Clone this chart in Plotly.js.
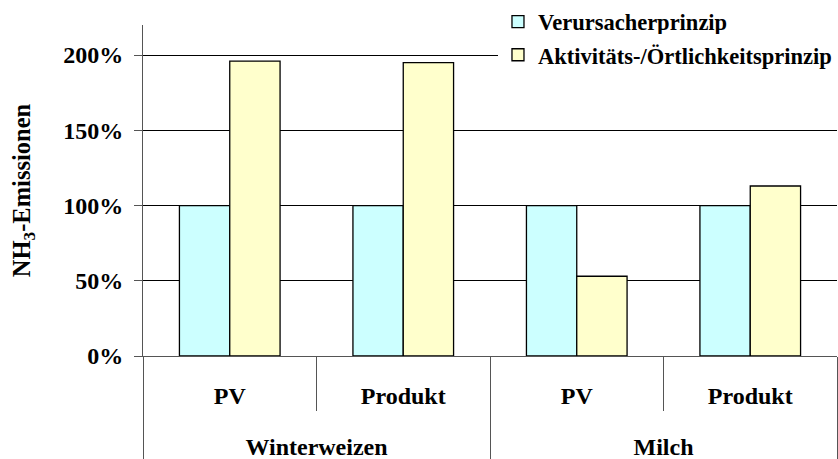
<!DOCTYPE html>
<html>
<head>
<meta charset="utf-8">
<script src="https://cdn.plot.ly/plotly-3.0.1.min.js"></script>
<style>html,body{margin:0;padding:0;background:#fff;}#chart{width:838px;height:459px;}</style>
</head>
<body>
<div id="chart"></div>
<script>
const groups = ["Winterweizen", "Winterweizen", "Milch", "Milch"];
const subCategories = ["PV", "Produkt", "PV", "Produkt"];
const seriesNames = ["Verursacherprinzip", "Aktivitäts-/Örtlichkeitsprinzip"];
const verursacher = [1.00, 1.00, 1.00, 1.00];
const aktivitaet = [1.96, 1.95, 0.53, 1.13];
const yTickValues = [0, 0.5, 1, 1.5, 2];
const yTickLabels = ["0%", "50%", "100%", "150%", "200%"];

const FONT = "Liberation Serif, Times New Roman, serif";
const LABEL_SIZE = 24;
// visible label size is set per span; the larger axis font only widens the line spacing
const subLabels = subCategories.map(s => '<span style="font-size:' + LABEL_SIZE + 'px">' + s + '</span>');
const groupLabels = groups.map(g => '<br><span style="font-size:' + LABEL_SIZE + 'px">' + g + '</span>');

const traces = [
  {
    type: "bar", name: seriesNames[0], x: [groupLabels, subLabels], y: verursacher,
    marker: {color: "#CCFFFF", line: {color: "#000", width: 1.3}}, legend: "legend"
  },
  {
    type: "bar", name: seriesNames[1], x: [groupLabels, subLabels], y: aktivitaet,
    marker: {color: "#FFFFCC", line: {color: "#000", width: 1.3}}, legend: "legend2"
  }
];
const legendFont = {family: FONT, size: 22.5, color: "#000", weight: 700};
const layout = {
  width: 838, height: 459,
  margin: {l: 143, r: 1, t: 25, b: 103},
  paper_bgcolor: "#fff", plot_bgcolor: "#fff",
  font: {family: FONT, size: 22, color: "#000", weight: 700},
  barmode: "group", bargap: 0.42, bargroupgap: 0,
  showlegend: true,
  legend: {x: 0.5115, xanchor: "left", y: 1.009, yanchor: "middle", bgcolor: "rgba(255,255,255,0)",
           font: legendFont, itemwidth: 30},
  legend2: {x: 0.5115, xanchor: "left", y: 0.909, yanchor: "middle", bgcolor: "#fff",
           font: legendFont, itemwidth: 30},
  xaxis: {
    type: "multicategory", showline: true, linecolor: "#555", linewidth: 1,
    ticks: "outside", ticklen: 54, tickcolor: "#555", tickwidth: 1, tickson: "boundaries",
    showdividers: true, dividercolor: "#555", dividerwidth: 1,
    ticklabelstandoff: 13,
    tickfont: {family: FONT, size: 28, color: "#000", weight: 700},
    showgrid: false, zeroline: false
  },
  yaxis: {
    range: [0, 2.2], tickvals: yTickValues, ticktext: yTickLabels,
    showgrid: true, gridcolor: "#000", gridwidth: 1,
    showline: true, linecolor: "#555", linewidth: 1,
    ticks: "outside", ticklen: 8, tickcolor: "#555",
    ticklabelstandoff: 6,
    zeroline: false,
    tickfont: {family: FONT, size: 24, color: "#000", weight: 700},
    title: {text: "NH<sub>3</sub>-Emissionen", font: {family: FONT, size: 24.5, color: "#000", weight: 700}, standoff: 25}
  }
};
Plotly.newPlot("chart", traces, layout, {displayModeBar: false, staticPlot: true});
</script>
</body>
</html>
